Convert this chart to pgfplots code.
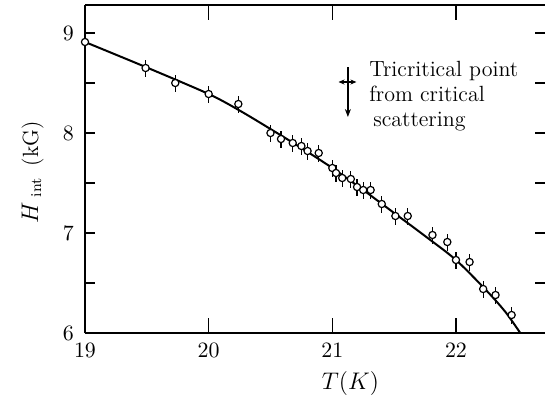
\documentclass[border=0pt]{standalone}
\usepackage{pgfplots}
\pgfplotsset{compat=1.18}
\usetikzlibrary{arrows.meta}
\begin{document}
\begin{tikzpicture}
\useasboundingbox (-42.5pt,-32.5pt) rectangle (230pt,166.5pt);
% tick marks on the y sides (no right spine)
\begin{axis}[at={(0,0)}, anchor=south west, scale only axis,
  width=230pt, height=164pt,
  xmin=19, xmax=22.72, ymin=6, ymax=9.28,
  axis line style={draw=none},
  xtick=\empty, ytick={6.5,7,...,9}, yticklabels={},
  ytick pos=both, major tick length=5pt, tick align=inside,
  tick style={line width=0.7pt, black}]
\end{axis}
\begin{axis}[at={(0,0)}, anchor=south west, scale only axis,
  width=230pt, height=164pt,
  xmin=19, xmax=22.72, ymin=6, ymax=9.28,
  axis x line=box, axis y line=left,
  axis line style={-, line width=0.9pt},
  x axis line style={-}, y axis line style={-},
  enlargelimits=false,
  xtick={19,20,21,22}, ytick={6,7,8,9},
  ytick style={draw=none},
  xtick style={line width=0.7pt, black},
  major tick length=7.5pt, tick align=inside,
  ticklabel style={font=\fontsize{11}{13}\selectfont},
  xticklabel style={yshift=-1.5pt},
  yticklabel style={xshift=-2pt},
  xlabel={$T(K)$},
  xlabel style={at={(axis description cs:0.577,-0.155)}, anchor=center, font=\fontsize{11.5}{13}\selectfont},
  ylabel={{\fontsize{12.5}{14}\selectfont$H$}\hspace{2.5pt}\raisebox{-1.5pt}{\fontsize{7.5}{9}\selectfont int}\hspace{6pt}{\fontsize{11}{13}\selectfont(kG)}},
  ylabel style={at={(axis description cs:-0.102,0.49)}, anchor=base},
]
% fitted curve
\addplot[smooth, line width=1pt, black] coordinates {
(19.0,8.91) (19.5,8.655) (20.0,8.39) (20.25,8.225) (20.5,8.04) (20.75,7.85)
(21.0,7.65) (21.25,7.43) (21.5,7.20) (21.75,6.97) (22.0,6.73) (22.25,6.42)
(22.4,6.21) (22.52,6.00)};
% error bars
\addplot[draw=none, mark=none, forget plot,
  error bars/.cd, y dir=both, y fixed=0.085, error mark=none,
  error bar style={line width=0.6pt, black}] coordinates {
(19.49,8.65) (19.73,8.50) (20.00,8.39) (20.24,8.29)
(20.50,8.00) (20.585,7.94) (20.68,7.90) (20.75,7.87) (20.80,7.82) (20.89,7.80)
(21.00,7.65) (21.03,7.60) (21.08,7.55) (21.15,7.54) (21.20,7.46) (21.25,7.43)
(21.31,7.43) (21.40,7.29) (21.51,7.17) (21.61,7.17) (21.81,6.98) (21.93,6.91)
(22.00,6.73) (22.11,6.71) (22.22,6.44) (22.32,6.38) (22.45,6.18)};
% data points
\addplot[only marks, mark=*, mark size=1.8pt,
  mark options={fill=white, draw=black, line width=0.6pt}] coordinates {
(19.00,8.91) (19.49,8.65) (19.73,8.50) (20.00,8.39) (20.24,8.29)
(20.50,8.00) (20.585,7.94) (20.68,7.90) (20.75,7.87) (20.80,7.82) (20.89,7.80)
(21.00,7.65) (21.03,7.60) (21.08,7.55) (21.15,7.54) (21.20,7.46) (21.25,7.43)
(21.31,7.43) (21.40,7.29) (21.51,7.17) (21.61,7.17) (21.81,6.98) (21.93,6.91)
(22.00,6.73) (22.11,6.71) (22.22,6.44) (22.32,6.38) (22.45,6.18)};
% tricritical point marker
\draw[line width=0.6pt, {Stealth[length=3pt,width=2.5pt]}-{Stealth[length=3pt,width=2.5pt]}]
  (axis cs:21.05,8.51) -- (axis cs:21.195,8.51);
\draw[line width=0.6pt, -{Stealth[length=4pt,width=3pt]}]
  (axis cs:21.126,8.66) -- (axis cs:21.126,8.16);
\node[anchor=base west, inner sep=0, font=\fontsize{11}{13}\selectfont] at (axis cs:21.296,8.57) {Tricritical point};
\node[anchor=base west, inner sep=0, font=\fontsize{11}{13}\selectfont] at (axis cs:21.296,8.32) {from critical};
\node[anchor=base west, inner sep=0, font=\fontsize{11}{13}\selectfont] at (axis cs:21.328,8.07) {scattering};
\end{axis}
\end{tikzpicture}
\end{document}
